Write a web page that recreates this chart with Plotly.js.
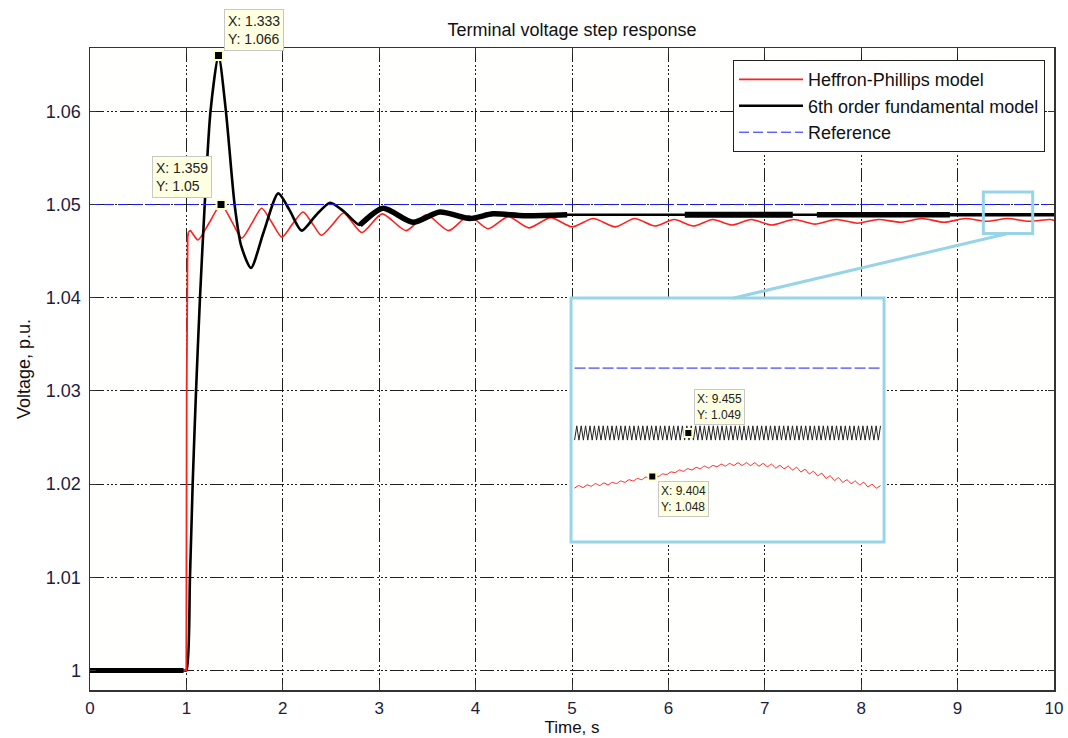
<!DOCTYPE html>
<html>
<head>
<meta charset="utf-8">
<script src="https://cdn.plot.ly/plotly-3.0.1.min.js"></script>
<style>html,body{margin:0;padding:0;background:#fff;}#chart{width:1068px;height:738px;}</style>
</head>
<body>
<div id="chart"></div>
<script>
// ---------------- data ----------------
const chartTitle = 'Terminal voltage step response';
const xTitle = 'Time, s';
const yTitle = 'Voltage, p.u.';
const seriesNames = ['Heffron-Phillips model', '6th order fundamental model', 'Reference'];

const xTicks = [0,1,2,3,4,5,6,7,8,9,10];
const yTicks = [1,1.01,1.02,1.03,1.04,1.05,1.06];
const yTickText = ['1','1.01','1.02','1.03','1.04','1.05','1.06'];

// Heffron-Phillips model (red): step part and oscillating part
const hpStepT = [0, 0.999, 1.003, 1.008, 1.013, 1.02];
const hpStepV = [1.0, 1.0, 1.03, 1.043, 1.0465, 1.047];
const hpT = [1.02, 1.04, 1.12, 1.24, 1.359, 1.47, 1.574, 1.68, 1.78, 1.885, 1.99, 2.10, 2.21, 2.305, 2.40, 2.52, 2.63, 2.82, 3.03, 3.28, 3.49, 3.72, 3.93, 4.13, 4.34, 4.55, 4.78, 5.0, 5.22, 5.45, 5.65, 5.86, 6.06, 6.26, 6.46, 6.66, 6.86, 7.07, 7.30, 7.52, 7.74, 7.96, 8.18, 8.41, 8.63, 8.86, 9.08, 9.30, 9.52, 9.74, 9.96, 10];
const hpV = [1.047, 1.0472, 1.0462, 1.0481, 1.0500, 1.0482, 1.0464, 1.0480, 1.0496, 1.0481, 1.0465, 1.0479, 1.0492, 1.0480, 1.0467, 1.0479, 1.0491, 1.0470, 1.0490, 1.0472, 1.0489, 1.0472, 1.0488, 1.0474, 1.0487, 1.0475, 1.0486, 1.0476, 1.0485, 1.0476, 1.0485, 1.0477, 1.0484, 1.0477, 1.0484, 1.0478, 1.0484, 1.0478, 1.0484, 1.0479, 1.0484, 1.0480, 1.0484, 1.0481, 1.0485, 1.0481, 1.0485, 1.0482, 1.0485, 1.0482, 1.0484, 1.0483];

// 6th order fundamental model (black)
const fmT = [0, 0.5, 0.97, 1.0, 1.037, 1.065, 1.10, 1.141, 1.19, 1.25, 1.333, 1.41, 1.50, 1.57, 1.67, 1.80, 1.953, 2.07, 2.195, 2.34, 2.49, 2.64, 2.80, 3.04, 3.35, 3.63, 3.94, 4.18, 4.5, 4.95, 5.3, 6.17, 7.29, 7.54, 8.92, 10];
const fmV = [1.0, 1.0, 1.0, 1.0, 1.01, 1.02, 1.03, 1.04, 1.05, 1.06, 1.066, 1.06, 1.05, 1.0455, 1.0432, 1.0470, 1.0512, 1.0494, 1.0472, 1.0488, 1.0502, 1.0492, 1.0478, 1.0496, 1.0481, 1.0492, 1.0485, 1.0490, 1.0488, 1.0489, 1.0489, 1.0489, 1.0489, 1.0489, 1.0489, 1.0489];

// Reference
const refT = [0, 10];
const refV = [1.05, 1.05];

// Data tips (main)
const tipX = [1.333, 1.359];
const tipY = [1.066, 1.05];
const tipText = ['X: 1.333<br>Y: 1.066', 'X: 1.359<br>Y: 1.05'];

// Zoom window (main axes) and inset view range
const zoomT = [9.267, 9.779];
const zoomV = [1.04689, 1.05135];
const insetRangeT = [9.289, 9.732];
const insetRangeV = [1.04732, 1.05108];
const insetSpanT = [9.294, 9.727];

// Inset: 6th order model ripple
const insetFmV = [
1.04889,1.04911,1.04889,1.04911,1.04889,1.04911,1.04889,1.04911,1.04889,1.04911,
1.04889,1.04911,1.04889,1.04911,1.04889,1.04911,1.04889,1.04911,1.04889,1.04911,
1.04889,1.04911,1.04889,1.04911,1.04889,1.04911,1.04889,1.04911,1.04889,1.04911,
1.04889,1.04911,1.04889,1.04911,1.04889,1.04911,1.04889,1.04911,1.04889,1.04911,
1.04889,1.04911,1.04889,1.04911,1.04889,1.04911,1.04889,1.04911,1.04889,1.04911,
1.04889,1.04911,1.04889,1.04911,1.04889,1.04911,1.04889,1.04911,1.04889,1.04911,
1.04889,1.04911,1.04889,1.04911,1.04889,1.04911,1.04889,1.04911,1.04889,1.04911,
1.04889,1.04911,1.04889,1.04911,1.04889,1.04911,1.04889,1.04911,1.04889,1.04911,
1.04889,1.04911,1.04889,1.04911,1.04889,1.04911,1.04889,1.04911,1.04889,1.04911,
1.04889,1.04911,1.04889,1.04911,1.04889,1.04911,1.04889,1.04911,1.04889,1.04911,
1.04889,1.04911,1.04889,1.04911,1.04889,1.04911,1.04889,1.04911,1.04889,1.04911,
1.04889,1.04911,1.04889,1.04911,1.04889,1.04911,1.04889,1.04911,1.04889,1.04911,
1.04889,1.04911,1.04889,1.04911,1.04889,1.04911,1.04889,1.04911,1.04889,1.04911,
1.04889,1.04911,1.04889,1.04911,1.04889,1.04911,1.04889,1.04911,1.04889,1.04911
];
// Inset: Heffron-Phillips model
const insetHpV = [
1.04815,1.04819,1.04816,1.04820,1.04818,1.04822,1.04819,1.04823,1.04820,1.04824,
1.04822,1.04826,1.04824,1.04828,1.04826,1.04830,1.04828,1.04832,1.04830,1.04834,
1.04833,1.04837,1.04836,1.04840,1.04839,1.04843,1.04841,1.04845,1.04843,1.04847,
1.04845,1.04849,1.04846,1.04850,1.04848,1.04852,1.04849,1.04853,1.04850,1.04854,
1.04850,1.04854,1.04850,1.04854,1.04849,1.04853,1.04848,1.04852,1.04846,1.04850,
1.04845,1.04849,1.04843,1.04847,1.04840,1.04844,1.04837,1.04841,1.04834,1.04838,
1.04830,1.04834,1.04827,1.04831,1.04824,1.04828,1.04822,1.04826,1.04820,1.04824,
1.04817,1.04821,1.04815,1.04819
];
const insetRefV = [1.05, 1.05];
const insetTipX = [9.455, 9.404];
const insetTipY = [1.049, 1.04833];
const insetTipText = ['X: 9.455<br>Y: 1.049', 'X: 9.404<br>Y: 1.048'];

// noisy (thick) stretches of the 6th order trace: [from, to, line width]
const fmBands = [[0, 0.97, 5], [1.85, 2.05, 4], [2.75, 4.95, 5.5], [6.17, 7.29, 6], [7.54, 8.92, 5.5], [8.92, 10, 3.5]];

// ---------------- build ----------------
const RED = '#ff1f1f', BLACK = '#000000', BLUE = '#1a1aff', SKY = '#98d4e8';
function sampleTimes(n, span) { return Array.from({length:n}, (_, i) => span[0] + i * (span[1] - span[0]) / (n - 1)); }

const traces = [];
traces.push({x: hpT, y: hpV, name: seriesNames[0], legendgroup: 'hp', mode: 'lines', line: {color: RED, width: 1.6, shape: 'spline', smoothing: 0.7}, xaxis: 'x', yaxis: 'y'});
traces.push({x: fmT, y: fmV, name: seriesNames[1], mode: 'lines', line: {color: BLACK, width: 2.6, shape: 'spline', smoothing: 0.7}, xaxis: 'x', yaxis: 'y'});
traces.push({x: refT, y: refV, name: seriesNames[2], mode: 'lines', line: {color: BLUE, width: 1, dash: '10px,4px'}, xaxis: 'x', yaxis: 'y'});
traces.push({x: hpStepT, y: hpStepV, legendgroup: 'hp', showlegend: false, mode: 'lines', line: {color: RED, width: 1.8}, xaxis: 'x', yaxis: 'y'});
fmBands.forEach(b => {
  const xs = [], ys = [];
  fmT.forEach((t, i) => { if (t >= b[0] && t <= b[1]) { xs.push(t); ys.push(fmV[i]); } });
  if (xs.length < 2) return;
  traces.push({x: xs, y: ys, mode: 'lines', showlegend: false, hoverinfo: 'skip', line: {color: BLACK, width: b[2], shape: 'spline', smoothing: 0.7}, xaxis: 'x', yaxis: 'y'});
});
traces.push({x: tipX, y: tipY, mode: 'markers', showlegend: false, marker: {symbol: 'square', size: 9, color: '#000', line: {color: '#ffffcc', width: 2}}, xaxis: 'x', yaxis: 'y'});

// inset traces
traces.push({x: insetSpanT, y: insetRefV, mode: 'lines', showlegend: false, line: {color: BLUE, width: 1, dash: '11px,3px'}, xaxis: 'x2', yaxis: 'y2'});
traces.push({x: sampleTimes(insetFmV.length, insetSpanT), y: insetFmV, mode: 'lines', showlegend: false, line: {color: '#222', width: 1}, xaxis: 'x2', yaxis: 'y2'});
traces.push({x: sampleTimes(insetHpV.length, insetSpanT), y: insetHpV, mode: 'lines', showlegend: false, line: {color: RED, width: 1, shape: 'spline', smoothing: 0.6}, xaxis: 'x2', yaxis: 'y2'});
traces.push({x: insetTipX, y: insetTipY, mode: 'markers', showlegend: false, marker: {symbol: 'square', size: 8, color: '#000', line: {color: '#ffffcc', width: 2}}, xaxis: 'x2', yaxis: 'y2'});

const FONT = 'Liberation Sans, Arial, Helvetica, sans-serif';
const tipStyle = {showarrow: false, bgcolor: '#ffffe1', bordercolor: '#c8c8c8', borderwidth: 1, borderpad: 3, align: 'left'};
const annotations = [
  Object.assign({x: tipX[0], y: tipY[0], xref: 'x', yref: 'y', text: tipText[0], xanchor: 'left', yanchor: 'bottom', xshift: 5, yshift: 4, font: {size: 14, color: '#222', family: FONT}}, tipStyle),
  Object.assign({x: tipX[1], y: tipY[1], xref: 'x', yref: 'y', text: tipText[1], xanchor: 'right', yanchor: 'bottom', xshift: -9, yshift: 7, font: {size: 14, color: '#222', family: FONT}}, tipStyle),
  Object.assign({x: insetTipX[0], y: insetTipY[0], xref: 'x2', yref: 'y2', text: insetTipText[0], xanchor: 'left', yanchor: 'bottom', xshift: 6, yshift: 8, font: {size: 12, color: '#222', family: FONT}}, tipStyle, {borderpad: 2}),
  Object.assign({x: insetTipX[1], y: insetTipY[1], xref: 'x2', yref: 'y2', text: insetTipText[1], xanchor: 'left', yanchor: 'top', xshift: 6, yshift: -5, font: {size: 12, color: '#222', family: FONT}}, tipStyle, {borderpad: 2})
];

const gridDash = '14px,3px,2px,2px,2px,2px,2px,3px';
const axisCommon = {
  showgrid: true, gridcolor: '#1e1e1e', gridwidth: 1, griddash: gridDash,
  ticks: 'inside', ticklen: 6, tickcolor: '#333', tickwidth: 1,
  showline: true, mirror: 'ticks', linecolor: '#333', linewidth: 1.5,
  zeroline: false
};

const layout = {
  width: 1068, height: 738,
  margin: {l: 90, r: 14, t: 48, b: 48, pad: 0},
  paper_bgcolor: '#ffffff', plot_bgcolor: '#fffffe',
  font: {family: FONT, color: '#111', size: 18},
  title: {text: chartTitle, x: 0.5, xref: 'paper', xanchor: 'center', y: 1 - 30/738, yref: 'container', yanchor: 'middle', font: {size: 18, color: '#111', family: FONT}},
  xaxis: Object.assign({}, axisCommon, {range: [0, 10], tickvals: xTicks, domain: [0, 1], anchor: 'y', ticklabelstandoff: 2,
    tickfont: {size: 17, color: '#1c1c40', family: FONT},
    title: {text: xTitle, standoff: 3, font: {size: 17, color: '#111', family: FONT}}}),
  yaxis: Object.assign({}, axisCommon, {range: [0.9979, 1.0668], tickvals: yTicks, ticktext: yTickText, domain: [0, 1], anchor: 'x', ticklabelstandoff: 4,
    tickfont: {size: 18, color: '#1c1c40', family: FONT},
    title: {text: yTitle, standoff: 10, font: {size: 18, color: '#111', family: FONT}}}),
  xaxis2: {domain: [0.499, 0.8237], anchor: 'y2', range: insetRangeT, showgrid: false, showticklabels: false, ticks: '', zeroline: false, showline: false},
  yaxis2: {domain: [0.2305, 0.6106], anchor: 'x2', range: insetRangeV, showgrid: false, showticklabels: false, ticks: '', zeroline: false, showline: false},
  showlegend: true,
  legend: {x: 0.9907, xanchor: 'right', y: 0.981, yanchor: 'top', bgcolor: '#ffffff', bordercolor: '#222', borderwidth: 1,
    font: {size: 18, color: '#111', family: FONT}, itemwidth: 64, tracegroupgap: 0},
  shapes: [
    {type: 'rect', xref: 'x', yref: 'y', x0: zoomT[0], x1: zoomT[1], y0: zoomV[0], y1: zoomV[1], line: {color: SKY, width: 3}, layer: 'above'},
    {type: 'line', xref: 'x', yref: 'y', x0: (zoomT[0] + zoomT[1]) / 2, y0: zoomV[0], x1: 6.67, y1: 1.03995, line: {color: SKY, width: 3}, layer: 'above'},
    {type: 'rect', xref: 'x2 domain', yref: 'y2 domain', x0: 0, x1: 1, y0: 0, y1: 1, line: {color: SKY, width: 3}, layer: 'above'}
  ],
  annotations: annotations
};

Plotly.newPlot('chart', traces, layout, {displayModeBar: false, staticPlot: true});
</script>
</body>
</html>
